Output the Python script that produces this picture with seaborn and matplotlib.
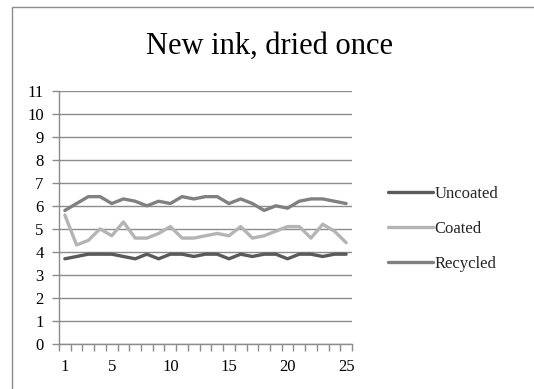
import matplotlib
matplotlib.use("Agg")
import matplotlib.pyplot as plt
from matplotlib.patches import Rectangle
import numpy as np
import pandas as pd
import seaborn as sns

samples = list(range(1, 26))
uncoated = [3.7, 3.8, 3.9, 3.9, 3.9, 3.8, 3.7, 3.9, 3.7, 3.9, 3.9, 3.8, 3.9,
            3.9, 3.7, 3.9, 3.8, 3.9, 3.9, 3.7, 3.9, 3.9, 3.8, 3.9, 3.9]
coated = [5.6, 4.3, 4.5, 5.0, 4.7, 5.3, 4.6, 4.6, 4.8, 5.1, 4.6, 4.6, 4.7,
          4.8, 4.7, 5.1, 4.6, 4.7, 4.9, 5.1, 5.1, 4.6, 5.2, 4.9, 4.4]
recycled = [5.8, 6.1, 6.4, 6.4, 6.1, 6.3, 6.2, 6.0, 6.2, 6.1, 6.4, 6.3, 6.4,
            6.4, 6.1, 6.3, 6.1, 5.8, 6.0, 5.9, 6.2, 6.3, 6.3, 6.2, 6.1]
series_names = ["Uncoated", "Coated", "Recycled"]
x_labels = [1, 5, 10, 15, 20, 25]
y_ticks = list(range(0, 12))

df = pd.DataFrame({
    "sample": samples * 3,
    "value": uncoated + coated + recycled,
    "paper": np.repeat(series_names, len(samples)),
})

sns.set_theme(style="white")
plt.rcParams["font.family"] = ["Liberation Serif", "DejaVu Serif"]

fig = plt.figure(figsize=(5.34, 3.89), dpi=100)
fig.patch.set_facecolor("white")
fig.patches.append(Rectangle((12 / 534, -0.1), 1.2, 1 - 7 / 389 + 0.1,
                             transform=fig.transFigure, fill=False,
                             edgecolor="#8c8c8c", linewidth=1.0))

ax = fig.add_axes([59 / 534, 1 - 344 / 389, (352 - 59) / 534, (344 - 90.7) / 389])
palette = {"Uncoated": "#5a5a5a", "Coated": "#b4b4b4", "Recycled": "#808080"}
sns.lineplot(data=df, x="sample", y="value", hue="paper", palette=palette,
             hue_order=series_names, linewidth=2.4, ax=ax, legend=False)

ax.set_xlim(0.5, 25.5)
ax.set_ylim(0, 11)
ax.set_xlabel("")
ax.set_ylabel("")

# category boundaries get tick marks, category centres get labels
ax.set_xticks(np.arange(0.5, 26, 1.0))
ax.set_xticklabels([])
ax.set_xticks(x_labels, minor=True)
ax.set_xticklabels([str(v) for v in x_labels], minor=True)
ax.tick_params(axis="x", which="major", length=5, width=1, color="#8c8c8c",
               direction="out", bottom=True)
ax.tick_params(axis="x", which="minor", length=0, pad=11, labelsize=12,
               labelcolor="black")

ax.set_yticks(y_ticks)
ax.set_yticklabels([str(v) for v in y_ticks])
ax.tick_params(axis="y", length=5, width=1, color="#8c8c8c", direction="out",
               left=True, pad=6, labelsize=12, labelcolor="black")

ax.grid(axis="y", color="#8c8c8c", linewidth=1.0)
ax.grid(axis="x", visible=False)
ax.set_axisbelow(True)
for side in ["top", "right"]:
    ax.spines[side].set_visible(False)
for side in ["left", "bottom"]:
    ax.spines[side].set_color("#8c8c8c")
    ax.spines[side].set_linewidth(1.0)

fig.text(269 / 534, 1 - 46 / 389, "New ink, dried once", ha="center",
         va="center", fontsize=22, color="black")

handles = [plt.Line2D([], [], color=palette[n], linewidth=2.4) for n in series_names]
fig.legend(handles, series_names, loc="center left",
           bbox_to_anchor=(388 / 534, 1 - 229 / 389), frameon=False,
           fontsize=12, handlelength=2.7, handletextpad=0.1,
           labelspacing=1.15, borderpad=0, borderaxespad=0)

fig.savefig("out.png", dpi=100)
